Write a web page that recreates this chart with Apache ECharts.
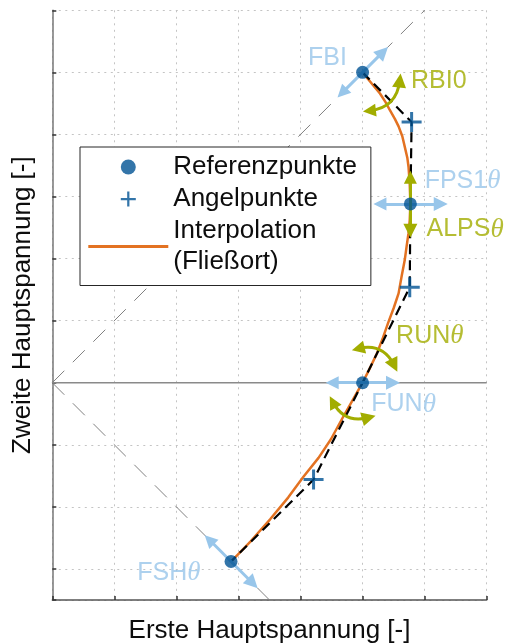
<!DOCTYPE html>
<html>
<head>
<meta charset="utf-8">
<script src="https://cdn.jsdelivr.net/npm/echarts@6/dist/echarts.min.js"></script>
<style>html,body{margin:0;padding:0;background:#fff}#c{width:509px;height:644px}</style>
</head>
<body>
<div id="c"></div>
<script>
// ---- data ----
const xAxisName = 'Erste Hauptspannung [-]';
const yAxisName = 'Zweite Hauptspannung [-]';
const legendNames = ['Referenzpunkte', 'Angelpunkte', 'Interpolation\n(Fließort)'];

const refPoints = [[5, 5], [5.77, 2.88], [5, 0], [2.88, -2.88]];
const hingePoints = [[5.79, 4.2], [5.76, 1.54], [4.21, -1.56]];
const hingePath = [[5, 5], [5.79, 4.2], [5.77, 2.88], [5.76, 1.54], [5, 0], [4.21, -1.56], [2.88, -2.88]];
const yieldCurve = [
  [5.0, 5.0], [5.14, 4.83], [5.28, 4.66], [5.37, 4.52], [5.44, 4.39], [5.52, 4.25],
  [5.58, 4.13], [5.64, 3.97], [5.68, 3.80], [5.72, 3.63], [5.74, 3.48], [5.76, 3.20],
  [5.77, 2.88], [5.76, 2.62], [5.74, 2.41], [5.71, 2.20], [5.68, 1.98], [5.63, 1.72],
  [5.58, 1.44], [5.50, 1.20], [5.41, 0.96], [5.33, 0.73], [5.23, 0.47], [5.12, 0.24],
  [5.0, 0.0], [4.84, -0.28], [4.67, -0.58], [4.49, -0.91], [4.29, -1.21], [4.05, -1.51],
  [3.80, -1.85], [3.51, -2.20], [3.20, -2.55], [2.88, -2.88]
];
const diagUp = [[0, 0], [6, 6]];
const diagDown = [[0, 0], [3.5, -3.5]];
const zeroLine = [[0, 0], [7, 0]];

// annotation arrows: [start, end, curveness]
const blueArrows = [
  [[4.67, 4.67], [5.33, 5.33], 0],
  [[5.28, 2.88], [6.26, 2.88], 0],
  [[4.51, 0], [5.49, 0], 0],
  [[2.53, -2.53], [3.23, -3.23], 0]
];
const greenArrows = [
  [[5.77, 3.31], [5.77, 2.45], 0],
  [[5.11, 4.38], [5.60, 4.87], -0.4],
  [[4.93, 0.55], [5.51, 0.28], 0.4],
  [[4.52, -0.31], [5.10, -0.56], -0.4]
];
const blueLabels = ['FBI', 'FPS1{t|θ}', 'FUN{t|θ}', 'FSH{t|θ}'];
const blueLabelAt = [[4.12, 5.23], [6.0, 3.25], [5.14, -0.35], [1.37, -3.07]];
const greenLabels = ['RBI0', 'ALPS{t|θ}', 'RUN{t|θ}'];
const greenLabelAt = [[5.78, 4.86], [6.03, 2.47], [5.54, 0.75]];

// ---- styles ----
const C_BLUE = '#005293', C_LIGHT = '#98C6EA', C_GREEN = '#A2AD00', C_ORANGE = '#E37222';
const FONT = 'Liberation Sans, Arial, sans-serif';
const plusPath = 'path://M8.5,0H11.5V8.5H20V11.5H11.5V20H8.5V11.5H0V8.5H8.5Z';
const lineIcon = 'path://M0,0H80V3H0Z';

function arrowData(list) {
  return list.map(a => ({ coords: [a[0], a[1]], lineStyle: { curveness: a[2] } }));
}
function labelSeries(texts, at, color) {
  return {
    type: 'scatter', symbolSize: 0, z: 7, silent: true,
    data: at.map((p, i) => ({ value: p, text: texts[i] })),
    label: {
      show: true, position: [0, 0], align: 'left', verticalAlign: 'middle',
      formatter: p => p.data.text,
      color: color, fontFamily: FONT, fontSize: 25,
      rich: { t: { fontFamily: 'Liberation Serif, Times New Roman, serif', fontStyle: 'italic', fontSize: 27, color: color } }
    }
  };
}

const chart = echarts.init(document.getElementById('c'), null, { renderer: 'canvas' });
chart.setOption({
  animation: false,
  backgroundColor: '#fff',
  grid: { left: 52.3, right: 22.3, top: 10.3, bottom: 44, containLabel: false, outerBoundsMode: 'none' },
  xAxis: {
    type: 'value', min: 0, max: 7, interval: 1,
    name: xAxisName, nameLocation: 'middle', nameGap: 18,
    nameTextStyle: { fontFamily: FONT, fontSize: 26, color: '#0d0d0d' },
    axisLine: { show: true, onZero: false, lineStyle: { color: '#555', width: 1.5 } },
    axisTick: { show: true, inside: true, length: 4, lineStyle: { color: '#333', width: 1.5 } },
    axisLabel: { show: false },
    splitLine: { show: true, lineStyle: { color: '#c4c4c4', width: 1, type: [2, 4.5] } }
  },
  yAxis: {
    type: 'value', min: -3.5, max: 6, splitNumber: 10,
    name: yAxisName, nameLocation: 'middle', nameGap: 16,
    nameTextStyle: { fontFamily: FONT, fontSize: 26, color: '#0d0d0d' },
    axisLine: { show: true, onZero: false, lineStyle: { color: '#777', width: 1.5 } },
    axisTick: { show: true, inside: true, length: 4, lineStyle: { color: '#333', width: 1.5 } },
    axisLabel: { show: false },
    splitLine: { show: true, lineStyle: { color: '#c4c4c4', width: 1, type: [2, 4.5] } }
  },
  legend: {
    orient: 'vertical', left: 80, top: 147,
    padding: [4.5, 14, 8, 8.3], itemGap: 1, itemWidth: 80, itemHeight: 15,
    borderColor: '#262626', borderWidth: 1, backgroundColor: '#fff', borderRadius: 0,
    selectedMode: false,
    textStyle: { fontFamily: FONT, fontSize: 26, color: '#0d0d0d', lineHeight: 31 },
    data: [
      { name: legendNames[0], icon: 'circle', itemStyle: { color: C_BLUE } },
      { name: legendNames[1], icon: plusPath, itemStyle: { color: C_BLUE } },
      { name: legendNames[2], icon: lineIcon, itemStyle: { color: C_ORANGE, borderWidth: 0 } }
    ]
  },
  series: [
    { type: 'line', data: diagUp, symbol: 'none', silent: true, z: 1,
      lineStyle: { color: '#808080', width: 1, type: [17, 12] } },
    { type: 'line', data: diagDown, symbol: 'none', silent: true, z: 1,
      lineStyle: { color: '#808080', width: 1, type: [17, 12] } },
    { type: 'line', data: zeroLine, symbol: 'none', silent: true, z: 1,
      lineStyle: { color: '#8a8a8a', width: 1.5 } },
    { name: legendNames[2], type: 'line', data: yieldCurve, symbol: 'none', smooth: false, z: 2,
      itemStyle: { color: C_ORANGE }, lineStyle: { color: C_ORANGE, width: 2.5, join: 'round' } },
    { type: 'line', data: hingePath, symbol: 'none', z: 3, silent: true,
      lineStyle: { color: '#000', width: 2.2, type: [10, 6] } },
    { type: 'lines', coordinateSystem: 'cartesian2d', z: 4, silent: true,
      symbol: ['triangle', 'triangle'], symbolSize: [13, 14],
      lineStyle: { color: C_LIGHT, width: 3, opacity: 1 },
      data: arrowData(blueArrows) },
    { type: 'lines', coordinateSystem: 'cartesian2d', z: 4, silent: true,
      symbol: ['triangle', 'triangle'], symbolSize: [13, 14],
      lineStyle: { color: C_GREEN, width: 3, opacity: 1 },
      data: arrowData(greenArrows) },
    { name: legendNames[1], type: 'scatter', data: hingePoints, symbol: plusPath, symbolSize: 20,
      symbolKeepAspect: true, z: 5, itemStyle: { color: C_BLUE } },
    { name: legendNames[0], type: 'scatter', data: refPoints, symbol: 'circle', symbolSize: 13,
      z: 6, itemStyle: { color: C_BLUE } },
    labelSeries(blueLabels, blueLabelAt, C_LIGHT),
    labelSeries(greenLabels, greenLabelAt, C_GREEN)
  ]
});
</script>
</body>
</html>
